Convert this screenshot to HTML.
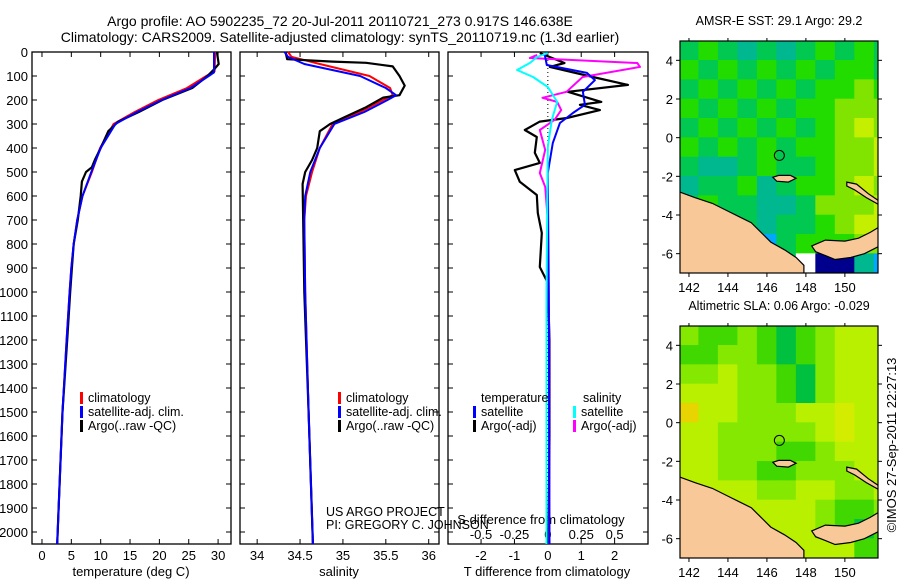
<!DOCTYPE html>
<html><head><meta charset="utf-8"><style>
body{margin:0;background:#fff}
svg{display:block;font-family:"Liberation Sans",sans-serif}
</style></head><body>
<svg id="fig" width="900" height="580" viewBox="0 0 900 580" xmlns="http://www.w3.org/2000/svg">
<text x="340" y="26" font-size="14" text-anchor="middle">Argo profile: AO 5902235_72 20-Jul-2011 20110721_273 0.917S 146.638E</text>
<text x="340" y="42" font-size="14" text-anchor="middle">Climatology: CARS2009. Satellite-adjusted climatology: synTS_20110719.nc (1.3d earlier)</text>
<g id="g1"></g>
<g id="g2"></g>
<g id="g3"></g>
<g id="m1"></g>
<g id="m2"></g>
<text transform="translate(896,445) rotate(-90)" font-size="13" text-anchor="middle">©IMOS 27-Sep-2011 22:27:13</text>
</svg>
<script>
// ---- data ----
const depthTicks=[0,100,200,300,400,500,600,700,800,900,1000,1100,1200,1300,1400,1500,1600,1700,1800,1900,2000];
const tempTicks=[0,5,10,15,20,25,30];
const salTicks=[34,34.5,35,35.5,36];
const tdiffTicks=[-2,-1,0,1,2];
const sdiffTicks=[-0.5,-0.25,0,0.25,0.5];
const sdiffLabels=["-0.5","-0.25","0","0.25","0.5"];

const climDepth=[0,80,100,150,200,250,300,400,500,600,700,800,900,1000,1200,1500,1800,2050];
const climTemp=[29.5,29.4,28,24.7,19.8,15.8,12.2,9.9,8.5,6.9,6.0,5.4,5.0,4.7,4.2,3.5,3.0,2.6];
const satDepth=[0,85,100,150,200,250,300,400,500,600,700,800,900,1000,1200,1500,1800,2050];
const satTemp=[29.3,29.3,28.4,25.3,20.4,16.2,12.5,10.0,8.4,6.9,6.0,5.4,5.0,4.7,4.2,3.5,3.0,2.6];
const argoDepth=[0,50,70,100,150,200,250,290,330,400,450,480,500,540,600,700,800,900,1000,1200,1500,1800,2050];
const argoTemp=[29.8,30.1,29.4,28.2,25.6,20.5,16.5,13,11.3,10,9,8.5,7.5,6.8,6.6,6.1,5.4,5.1,4.8,4.3,3.5,3.0,2.6];

const climSDepth=[0,20,50,100,150,180,200,250,300,400,500,600,700,1000,1500,2050];
const climSal=[34.36,34.4,34.73,35.31,35.55,35.58,35.47,35.2,34.88,34.73,34.64,34.57,34.55,34.56,34.6,34.65];
const satSal=[34.32,34.36,34.55,35.2,35.5,35.62,35.52,35.25,34.9,34.73,34.62,34.56,34.55,34.56,34.6,34.65];
const argoSDepth=[0,30,40,45,60,100,140,180,190,230,270,300,330,400,450,500,550,1000,1500,2050];
const argoSal=[34.33,34.35,34.88,35.27,35.58,35.66,35.72,35.66,35.47,35.27,35.03,34.85,34.73,34.7,34.64,34.56,34.53,34.55,34.6,34.65];

const argoTdDepth=[4,46,62,104,137,166,208,220,242,275,290,325,354,420,462,492,541,596,671,754,896,962,1200,1600,2050];
const argoTd=[-0.24,0.5,0.06,1.35,2.4,0.6,1.6,0.96,1.56,0.57,-0.24,-0.69,-0.33,-0.39,-0.24,-0.99,-0.84,-0.33,-0.3,-0.18,-0.24,0,0.05,0.05,0.02];
const satTdDepth=[12,54,87,117,166,220,254,296,379,504,1000,2050];
const satTd=[-0.09,-0.03,1.17,1.41,1.05,1.11,0.75,0.36,0.15,0,0.03,0.05];
const argoSdDepth=[12,25,46,62,104,166,191,208,242,283,325,408,504,562,700,1200,2050];
const argoSd=[-0.08,-0.135,0.67,0.69,0.26,0.14,-0.04,0.07,0.1,0.05,-0.06,-0.02,-0.06,-0.02,0,0.01,0.01];
const satSdDepth=[4,21,46,75,104,146,208,283,396,1000,2050];
const satSd=[0,-0.08,-0.135,-0.23,-0.11,0,0.07,0.03,0,-0.01,-0.01];

const sstRows=["34323234343","43434343443","34343434454","43434344555","34343434565","43434344556","32234334556","23342344565","34332235556","43332334566","33331344455","33333390021"];
const slaRows=["21121012333","11221012333","22322102333","33322102333","53322233433","33222223433","33222112333","33221122233","33332233223","33333332112","33333332101","33333333311"];
const sstColors=["#00008c","#00a8ff","#00b890","#00c850","#22dc00","#80e400","#c4f000","#e8e000","#fff","#ffffff"];
const slaColors=["#00c040","#40d800","#84e800","#b8f000","#d4ec00","#e8d400"];
const coastMain=[[141.5,-2.8],[142.3,-3.1],[143.2,-3.4],[144,-3.8],[144.6,-4.1],[145.2,-4.4],[145.7,-4.9],[146.2,-5.4],[146.9,-5.8],[147.5,-6.2],[147.9,-6.6],[147.9,-7.1],[141.5,-7.1]];
const coastNB=[[148.3,-5.6],[149,-5.3],[150,-5.35],[150.7,-5.2],[151.3,-4.9],[151.8,-4.6],[151.8,-5.6],[151,-6.0],[150.3,-6.2],[149.5,-6.3],[149,-6.1],[148.5,-5.9]];
const coastNI=[[150.1,-2.3],[150.6,-2.4],[151.2,-2.9],[151.8,-3.3],[151.8,-3.5],[151.1,-3.1],[150.5,-2.7],[150.1,-2.5]];
const coastManus=[[146.3,-2.05],[146.6,-1.95],[147.2,-1.95],[147.5,-2.1],[147.1,-2.3],[146.5,-2.25]];
const profLon=146.638, profLat=-0.917;

// ---- helpers ----
const NS="http://www.w3.org/2000/svg";
function mk(parent,tag,attrs,text){const e=document.createElementNS(NS,tag);for(const k in attrs)e.setAttribute(k,attrs[k]);if(text!==undefined)e.textContent=text;parent.appendChild(e);return e;}
const top0=52,bot0=544;
const yD=d=>top0+d*0.24;
function panel(g,x0,x1,xmin,xmax){
  const sx=v=>x0+(v-xmin)/(xmax-xmin)*(x1-x0);
  const r=mk(g,'rect',{x:x0,y:top0,width:x1-x0,height:bot0-top0,fill:'none',stroke:'#000','stroke-width':1.3});
  
  
  depthTicks.forEach(d=>{mk(g,'line',{x1:x0,x2:x0+5,y1:yD(d),y2:yD(d),stroke:'#000'});mk(g,'line',{x1:x1,x2:x1-5,y1:yD(d),y2:yD(d),stroke:'#000'});});
  return sx;
}
function line(g,sx,xs,ds,col,w,name,scale){
  const pts=xs.map((v,i)=>sx(v*(scale||1)).toFixed(1)+','+yD(ds[i]).toFixed(1)).join(' ');
  const p=mk(g,'polyline',{points:pts,fill:'none',stroke:col,'stroke-width':w,'stroke-linejoin':'round'});
  
  
}
function xticks(g,sx,ticks,labels,y,fs){
  ticks.forEach((t,i)=>{const x=sx(t);
    mk(g,'line',{x1:x,x2:x,y1:bot0,y2:bot0-5,stroke:'#000'});mk(g,'line',{x1:x,x2:x,y1:top0,y2:top0+5,stroke:'#000'});
    const tx=mk(g,'text',{x:x,y:y,'font-size':fs||13,'text-anchor':'middle'},labels?labels[i]:String(t));
    
    });
}
function legend(g,x,y,col,label){
  mk(g,'rect',{x:x,y:y-10,width:3,height:12,fill:col});
  const t=mk(g,'text',{x:x+8,y:y,'font-size':12.5},label);
  
  
}

// panel 1
const g1=document.getElementById('g1');
const s1=panel(g1,32,231,-1.7,32.2);
depthTicks.forEach(d=>{const t=mk(g1,'text',{x:28,y:yD(d)+5,'font-size':13,'text-anchor':'end'},String(d));
  
  });
xticks(g1,s1,tempTicks,null,560);
mk(g1,'text',{x:131,y:576,'font-size':13,'text-anchor':'middle'},'temperature (deg C)');
line(g1,s1,climTemp,climDepth,'#f00',2,'climatology-temp-line');
line(g1,s1,argoTemp,argoDepth,'#000',2.2,'argo-temp-line');
line(g1,s1,satTemp,satDepth,'#00f',2,'satellite-temp-line');
legend(g1,80,402,'#f00','climatology');legend(g1,80,416,'#00f','satellite-adj. clim.');legend(g1,80,430,'#000','Argo(..raw -QC)');

// panel 2
const g2=document.getElementById('g2');
const s2=panel(g2,240,439,33.8,36.12);
xticks(g2,s2,salTicks,["34","34.5","35","35.5","36"],560);
mk(g2,'text',{x:339,y:576,'font-size':13,'text-anchor':'middle'},'salinity');
line(g2,s2,climSal,climSDepth,'#f00',2,'climatology-sal-line');
line(g2,s2,argoSal,argoSDepth,'#000',2.2,'argo-sal-line');
line(g2,s2,satSal,climSDepth,'#00f',2,'satellite-sal-line');
legend(g2,338,402,'#f00','climatology');legend(g2,338,416,'#00f','satellite-adj. clim.');legend(g2,338,430,'#000','Argo(..raw -QC)');

// panel 3
const g3=document.getElementById('g3');
const s3=panel(g3,448,648,-2.99,3.0);
mk(g3,'line',{x1:s3(0),x2:s3(0),y1:top0,y2:bot0,stroke:'#000','stroke-dasharray':'1,3'});
xticks(g3,s3,tdiffTicks,null,560);
sdiffTicks.forEach((t,i)=>{const tx=mk(g3,'text',{x:s3(t*4),y:539,'font-size':13,'text-anchor':'middle'},sdiffLabels[i]);
  
  });
mk(g3,'text',{x:541,y:524,'font-size':13,'text-anchor':'middle'},'S difference from climatology');
mk(g3,'text',{x:547,y:576,'font-size':13,'text-anchor':'middle'},'T difference from climatology');
line(g3,s3,argoTd,argoTdDepth,'#000',2.2,'argo-tdiff-line');
line(g3,s3,argoSd,argoSdDepth,'#f0f',2,'argo-sdiff-line',4);
line(g3,s3,satTd,satTdDepth,'#00f',2,'satellite-tdiff-line');
line(g3,s3,satSd,satSdDepth,'#0ff',2,'satellite-sdiff-line',4);
mk(g3,'text',{x:481,y:402,'font-size':12.5},'temperature');mk(g3,'text',{x:583,y:402,'font-size':12.5},'salinity');
legend(g3,473,416,'#00f','satellite');legend(g3,473,430,'#000','Argo(-adj)');
legend(g3,573,416,'#0ff','satellite');legend(g3,573,430,'#f0f','Argo(-adj)');
mk(g2,'text',{x:326,y:516,'font-size':12.5},'US ARGO PROJECT');
mk(g2,'text',{x:326,y:529,'font-size':12.5},'PI: GREGORY C. JOHNSON');

// maps
function drawMap(id,yTop,yBot,rows,cols,title,name){
  const g=document.getElementById(id);
  const x0=680,x1=878,lon0=141.54,lon1=151.7;
  const lx=l=>x0+(l-lon0)/(lon1-lon0)*(x1-x0);
  const ppd=(yBot-yTop)/12, ly=l=>yTop+(5-l)*ppd;
  const cp=mk(g,'clipPath',{id:id+'c'});mk(cp,'rect',{x:x0,y:yTop,width:x1-x0,height:yBot-yTop});
  const inner=mk(g,'g',{'clip-path':'url(#'+id+'c)'});
  rows.forEach((r,ri)=>{[...r].forEach((c,ci)=>{
    const cell=mk(inner,'rect',{x:lx(141.5+ci)-0.3,y:ly(5-ri)-0.3,width:lx(142.5)-lx(141.5)+0.6,height:ppd+0.6,fill:cols[+c]});
    
    });});
  [coastMain,coastNB,coastNI,coastManus].forEach(poly=>{
    const p=mk(inner,'polygon',{points:poly.map(q=>lx(q[0]).toFixed(1)+','+ly(q[1]).toFixed(1)).join(' '),fill:'#f8c898',stroke:'#000','stroke-width':1.2});
    
    });
  const c=mk(g,'circle',{cx:lx(profLon),cy:ly(profLat),r:5,fill:'none',stroke:'#000','stroke-width':1});
  
  
  mk(g,'rect',{x:x0,y:yTop,width:x1-x0,height:yBot-yTop,fill:'none',stroke:'#000','stroke-width':1.2});
  [-6,-4,-2,0,2,4].forEach(l=>{mk(g,'line',{x1:x0-4,x2:x0,y1:ly(l),y2:ly(l),stroke:'#000'});mk(g,'line',{x1:x1,x2:x1+4,y1:ly(l),y2:ly(l),stroke:'#000'});
    mk(g,'text',{x:673,y:ly(l)+5,'font-size':13,'text-anchor':'end'},String(l));});
  [142,144,146,148,150].forEach(l=>{mk(g,'line',{x1:lx(l),x2:lx(l),y1:yBot,y2:yBot+4,stroke:'#000'});mk(g,'line',{x1:lx(l),x2:lx(l),y1:yTop,y2:yTop-3,stroke:'#000'});
    mk(g,'text',{x:lx(l),y:yBot+19,'font-size':13,'text-anchor':'middle'},String(l));});
  const t=mk(g,'text',{x:779,y:yTop-16,'font-size':12.5,'text-anchor':'middle'},title);
  
  
}
drawMap('m1',41,273,sstRows,sstColors,'AMSR-E SST: 29.1 Argo: 29.2','sst-map-title');
drawMap('m2',326,558,slaRows,slaColors,'Altimetric SLA: 0.06 Argo: -0.029','sla-map-title');
</script>
</body></html>
